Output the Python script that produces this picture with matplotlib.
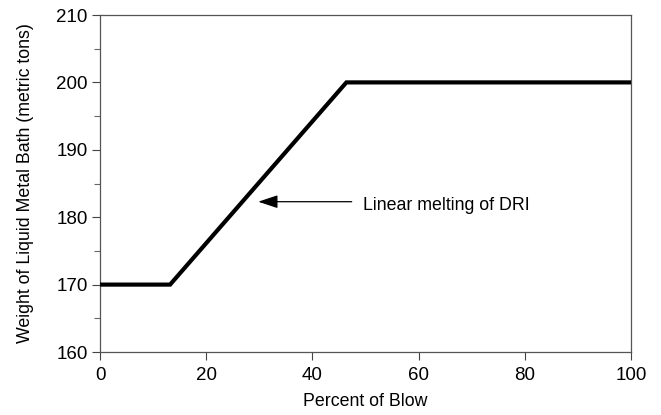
import matplotlib
matplotlib.use("Agg")
import matplotlib.pyplot as plt
from matplotlib.ticker import MultipleLocator

percent_blow = [0, 13.2, 46.4, 100]
bath_weight = [170, 170, 200, 200]
x_ticks = [0, 20, 40, 60, 80, 100]
y_ticks = [160, 170, 180, 190, 200, 210]
annotation_text = "Linear melting of DRI"
arrow_tip = (29.8, 182.3)
arrow_tail = (47.4, 182.3)
text_pos = (49.5, 181.7)

plt.rcParams['font.family'] = ['Liberation Sans', 'DejaVu Sans']

fig = plt.figure(figsize=(6.61, 4.15), dpi=100)
ax = fig.add_axes([100/661, 1 - 352/415, (631-100)/661, (352-15)/415])

ax.plot(percent_blow, bath_weight, color='black', lw=3.0, solid_joinstyle='miter', solid_capstyle='butt', clip_on=False, zorder=3)

ax.set_xlim(0, 100)
ax.set_ylim(160, 210)
ax.set_xticks(x_ticks)
ax.set_yticks(y_ticks)
ax.yaxis.set_minor_locator(MultipleLocator(5))
ax.tick_params(axis='both', which='major', direction='out', length=6, width=0.8, color='#444444', labelsize=13.5, pad=3)
ax.tick_params(axis='x', which='major', pad=5)
ax.tick_params(axis='y', which='minor', direction='out', length=4, width=0.8, color='#666666')
for s in ax.spines.values():
    s.set_color('#555555')
    s.set_linewidth(0.9)

ax.set_xlabel("Percent of Blow", fontsize=12.8, labelpad=6)
ax.set_ylabel("Weight of Liquid Metal Bath (metric tons)", fontsize=12.8, labelpad=16)

ax.annotate('', xy=arrow_tip, xytext=arrow_tail,
            arrowprops=dict(arrowstyle='-|>,head_length=1.2,head_width=0.4', color='black', lw=0.9,
                            shrinkA=0, shrinkB=0, mutation_scale=10))
ax.text(text_pos[0], text_pos[1], annotation_text, fontsize=12.8, va='center', ha='left')

fig.savefig("out.png", dpi=100)
